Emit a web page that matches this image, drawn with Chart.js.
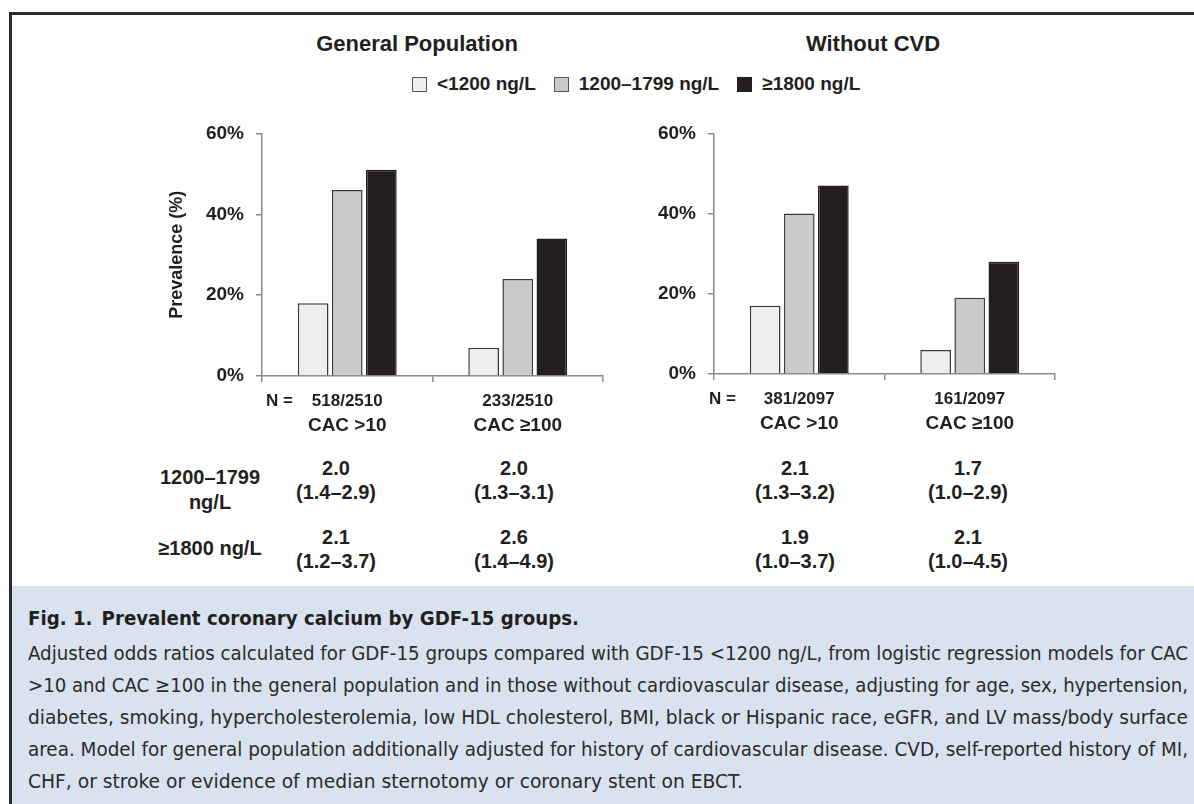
<!DOCTYPE html>
<html>
<head>
<meta charset="utf-8">
<script src="https://cdn.jsdelivr.net/npm/chart.js@4/dist/chart.umd.min.js"></script>
<style>
  html, body { margin: 0; padding: 0; background: #fff; width: 1194px; height: 804px; overflow: hidden;
    font-family: "Liberation Sans", Arial, sans-serif; color: #231f20; }
  #frame { position: absolute; left: 9px; top: 12px; width: 1200px; height: 571px;
    border: 3px solid #2a2a2a; border-right: none; }
  #caption { position: absolute; left: 9px; top: 586px; width: 1184px; height: 218px;
    background: #d9e2ef; border-left: 3px solid #2a2a2a; }
  canvas { position: absolute; }
  .t { position: absolute; font-weight: bold; white-space: nowrap; transform: translate(-50%, -50%); text-align: center; }
  .panel-title { font-size: 22px; }
  #legend { position: absolute; left: 412px; top: 72px; height: 24px; display: flex; align-items: center;
    font-size: 19px; font-weight: bold; white-space: nowrap; }
  #legend .item { display: flex; align-items: center; margin-right: 18px; }
  #legend .sw { width: 15px; height: 15px; box-sizing: border-box; border: 1px solid #555; margin-right: 10px; }
  .tbl { font-size: 20px; }
  .cap { position: absolute; left: 28px; white-space: nowrap; transform-origin: 0 50%;
    font-family: "Liberation Sans Narrow", "DejaVu Sans Condensed", "DejaVu Sans", sans-serif;
    font-stretch: condensed; color: #2b2b2b; font-size: 20px; line-height: 24px; }
  .cap.head { font-weight: bold; color: #231f20; }
</style>
</head>
<body>
<div id="frame"></div>
<div id="caption"></div>

<canvas id="genChart" width="460" height="340" style="left:150px;top:110px;width:460px;height:340px"></canvas>
<canvas id="cvdChart" width="460" height="340" style="left:602px;top:110px;width:460px;height:340px"></canvas>

<div id="overlay"></div>

<script>
// ---- data ----
const categories = ['CAC >10', 'CAC \u2265100'];
const groups = ['<1200 ng/L', '1200\u20131799 ng/L', '\u22651800 ng/L'];
const groupColors = ['#eeeff1', '#c9cacc', '#231f20'];

const genLow  = [18, 7];
const genMid  = [46, 24];
const genHigh = [51, 34];
const cvdLow  = [17, 6];
const cvdMid  = [40, 19];
const cvdHigh = [47, 28];

const genN = ['518/2510', '233/2510'];
const cvdN = ['381/2097', '161/2097'];

const yTicks = [0, 20, 40, 60];

const orRowLabels = [['1200\u20131799', 'ng/L'], ['\u22651800 ng/L']];
const genOrMid  = ['2.0', '2.0'];
const genCiMid  = ['(1.4\u20132.9)', '(1.3\u20133.1)'];
const genOrHigh = ['2.1', '2.6'];
const genCiHigh = ['(1.2\u20133.7)', '(1.4\u20134.9)'];
const cvdOrMid  = ['2.1', '1.7'];
const cvdCiMid  = ['(1.3\u20133.2)', '(1.0\u20132.9)'];
const cvdOrHigh = ['1.9', '2.1'];
const cvdCiHigh = ['(1.0\u20133.7)', '(1.0\u20134.5)'];

const captionHead = 'Fig. 1.\u2002Prevalent coronary calcium by GDF-15 groups.';
const captionLines = [
  'Adjusted odds ratios calculated for GDF-15 groups compared with GDF-15 <1200 ng/L, from logistic regression models for CAC',
  '>10 and CAC \u2265100 in the general population and in those without cardiovascular disease, adjusting for age, sex, hypertension,',
  'diabetes, smoking, hypercholesterolemia, low HDL cholesterol, BMI, black or Hispanic race, eGFR, and LV mass/body surface',
  'area. Model for general population additionally adjusted for history of cardiovascular disease. CVD, self-reported history of MI,',
  'CHF, or stroke or evidence of median sternotomy or coronary stent on EBCT.'
];

// ---- drawing ----
const FONT = '"Liberation Sans", Arial, sans-serif';
const AXIS = '#8c8c8c';
const INK = '#231f20';

// N counts and category names beneath each bar group
const categoryLabels = {
  id: 'categoryLabels',
  afterDraw(chart, args, opts) {
    const { ctx, chartArea } = chart;
    const x = chart.scales.x;
    ctx.save();
    ctx.fillStyle = INK;
    ctx.textBaseline = 'middle';
    ctx.font = 'bold 17px ' + FONT;
    ctx.textAlign = 'right';
    ctx.fillText('N =', chartArea.left + opts.nOffset, chartArea.bottom + 25);
    ctx.textAlign = 'center';
    opts.counts.forEach((n, i) => {
      ctx.fillText(n, x.getPixelForValue(i), chartArea.bottom + 25);
    });
    ctx.font = 'bold 19px ' + FONT;
    categories.forEach((c, i) => {
      ctx.fillText(c, x.getPixelForValue(i), chartArea.bottom + 50);
    });
    ctx.restore();
  }
};

function makeChart(id, low, mid, high, counts, cfg) {
  const series = [low, mid, high];
  return new Chart(document.getElementById(id), {
    type: 'bar',
    data: {
      labels: categories,
      datasets: series.map((d, i) => ({
        label: groups[i],
        data: d,
        backgroundColor: groupColors[i],
        borderColor: i === 2 ? INK : '#3a3a3a',
        borderWidth: 1.5,
        categoryPercentage: 0.6,
        barPercentage: 0.9
      }))
    },
    options: {
      responsive: false,
      animation: false,
      events: [],
      layout: { padding: { top: cfg.top, right: 7, bottom: cfg.bottom, left: 0 } },
      plugins: {
        legend: { display: false },
        tooltip: { enabled: false },
        categoryLabels: { counts: counts, nOffset: cfg.nOffset }
      },
      scales: {
        x: {
          offset: true,
          grid: { display: true, drawOnChartArea: false, drawTicks: true, tickLength: 6, color: AXIS, lineWidth: 1.5, offset: true },
          border: { color: AXIS, width: 1.5 },
          ticks: { display: false },
          afterFit(s) { s.height = 10; }
        },
        y: {
          min: 0, max: 60,
          afterBuildTicks(s) { s.ticks = yTicks.map(v => ({ value: v })); },
          ticks: { callback: v => v + '%', padding: 12, color: INK, font: { family: FONT, size: 19, weight: 'bold' } },
          grid: { drawOnChartArea: false, tickLength: 6, color: AXIS, lineWidth: 1.5 },
          border: { color: AXIS, width: 1.5 },
          title: {
            display: cfg.yTitle,
            text: 'Prevalence (%)',
            color: INK,
            font: { family: FONT, size: 18, weight: 'bold' },
            padding: { top: 16, bottom: 0 }
          },
          afterFit(s) { s.width = 112; }
        }
      }
    },
    plugins: [categoryLabels]
  });
}

makeChart('genChart', genLow, genMid, genHigh, genN, { top: 14, bottom: 64, nOffset: 31, yTitle: true });
makeChart('cvdChart', cvdLow, cvdMid, cvdHigh, cvdN, { top: 16, bottom: 66, nOffset: 22, yTitle: false });

// ---- text blocks ----
const overlay = document.getElementById('overlay');
function addText(txt, x, y, cls) {
  const d = document.createElement('div');
  d.className = 't ' + (cls || '');
  d.textContent = txt;
  d.style.left = x + 'px';
  d.style.top = y + 'px';
  overlay.appendChild(d);
  return d;
}

addText('General Population', 417, 44, 'panel-title');
addText('Without CVD', 873, 44, 'panel-title');

// legend
const legend = document.createElement('div');
legend.id = 'legend';
groups.forEach((g, i) => {
  const item = document.createElement('div');
  item.className = 'item';
  const sw = document.createElement('div');
  sw.className = 'sw';
  sw.style.background = groupColors[i];
  if (i === 2) sw.style.borderColor = INK;
  const lbl = document.createElement('span');
  lbl.textContent = g;
  item.appendChild(sw);
  item.appendChild(lbl);
  legend.appendChild(item);
});
overlay.appendChild(legend);

// odds-ratio table
const rowLabelX = 210;
const colX = [336, 514, 795, 968];
const rowY = [468, 537];
const lineGap = 24;
addText(orRowLabels[0][0], rowLabelX, 477, 'tbl');
addText(orRowLabels[0][1], rowLabelX, 502, 'tbl');
addText(orRowLabels[1][0], rowLabelX, 548, 'tbl');
const orCols = [
  [genOrMid[0], genCiMid[0], genOrHigh[0], genCiHigh[0]],
  [genOrMid[1], genCiMid[1], genOrHigh[1], genCiHigh[1]],
  [cvdOrMid[0], cvdCiMid[0], cvdOrHigh[0], cvdCiHigh[0]],
  [cvdOrMid[1], cvdCiMid[1], cvdOrHigh[1], cvdCiHigh[1]]
];
orCols.forEach((col, c) => {
  addText(col[0], colX[c], rowY[0], 'tbl');
  addText(col[1], colX[c], rowY[0] + lineGap, 'tbl');
  addText(col[2], colX[c], rowY[1], 'tbl');
  addText(col[3], colX[c], rowY[1] + lineGap, 'tbl');
});

// caption, each line fitted to its measured width
function addCaption(txt, y, width, cls) {
  const d = document.createElement('div');
  d.className = 'cap ' + (cls || '');
  d.textContent = txt;
  d.style.top = (y - 12) + 'px';
  overlay.appendChild(d);
  const w = d.getBoundingClientRect().width;
  d.style.transform = 'scaleX(' + (width / w) + ')';
}
addCaption(captionHead, 618, 551, 'head');
const capY = [653, 685, 717, 749, 781];
const capW = [1160, 1160, 1160, 1160, 715];
captionLines.forEach((l, i) => addCaption(l, capY[i], capW[i]));
</script>
</body>
</html>
